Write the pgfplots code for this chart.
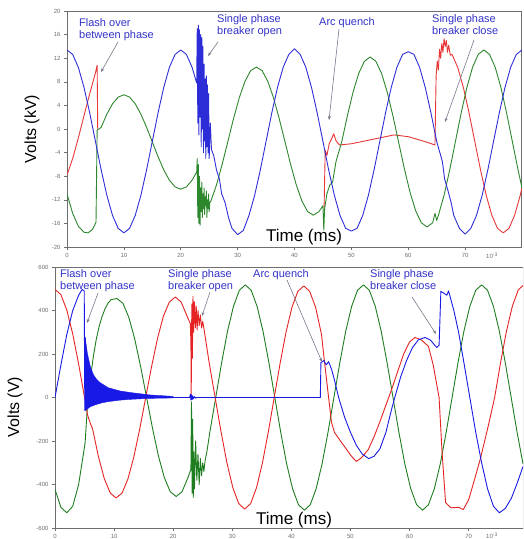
\documentclass[border=0pt]{standalone}
\usepackage{fontspec}
\setmainfont{Liberation Sans}
\usepackage{pgfplots}
\pgfplotsset{compat=1.18}
\usetikzlibrary{arrows.meta}
\definecolor{wblue}{RGB}{45,45,215}
\definecolor{wgreen}{RGB}{45,135,45}
\definecolor{wred}{RGB}{232,55,55}
\definecolor{bblue}{RGB}{25,25,230}
\definecolor{bgreen}{RGB}{30,125,30}
\definecolor{bred}{RGB}{230,35,35}
\definecolor{notecol}{RGB}{50,50,200}
\definecolor{arrowcol}{RGB}{120,120,140}
\definecolor{framecol}{RGB}{110,110,110}
\pgfplotsset{
  wave/.style={
    scale only axis,
    anchor=south west,
    xmin=0,
    xtick={0,10,...,70},
    xtick pos=bottom, ytick pos=left,
    tick align=outside,
    major tick length=3pt,
    axis line style={draw=framecol, line width=1pt},
    tick style={draw=framecol, line width=0.6pt},
    ticklabel style={font=\fontsize{6}{7}\selectfont, text=framecol},
    /pgf/number format/assume math mode=true,
    every axis plot/.append style={line width=0.9pt, line join=round, mark=none},
  },
}
\begin{document}
\begin{tikzpicture}
\path[use as bounding box, clip] (0pt,0pt) rectangle (523pt,-539pt);

% ---- upper panel: kV ----
\begin{axis}[wave, at={(67pt,-247pt)}, width=455pt, height=236pt,
  xmax=80, ymin=-20, ymax=20, ytick={-20,-16,...,20}]
% red phase
\addplot[wred] coordinates {
 (0,-7.8)(1,-5)(2,-1.5)(3,2.3)(4,6)(5,9.5)(5.3,10.8)(5.4,0)
};
\addplot[wred] coordinates {
 (45.2,-13.5)(45.4,-3.6)(45.7,-4.5)(46.1,-2.5)(46.6,-1.5)(46.9,-0.8)(47.3,-2)(47.9,-2.7)
 (50,-2.5)(53,-1.9)(56,-1.3)(57.5,-1.0)(60,-1.3)(62.5,-2.0)(64.7,-2.7)
 (64.9,9)(65.1,11.5)(65.3,10)(65.5,13.5)(65.7,12)(65.9,14.5)(66.1,13)(66.3,15.3)(66.5,14)
 (66.7,15)(66.9,13)(67.1,14.2)(67.4,12.5)(67.7,12.64)(68.7,10.44)(69.7,7.01)(70.7,2.69)
 (71.7,-2.1)(72.7,-6.89)(73.7,-11.21)(74.7,-14.64)(75.7,-16.84)(76.7,-17.6)(77.7,-16.84)
 (78.7,-14.64)(79.7,-11.21)(80,-9.85)
};
% green phase
\addplot[wgreen] coordinates {
 (0,-11)(1,-14.3)(2,-16.5)(3,-17.5)(3.7,-17.6)(4.5,-17)(5.1,-15.8)(5.3,-0.2)
 (6,0.27)(7,2.5)(8,4.27)(9,5.41)(10,5.8)(11,5.41)(12,4.27)(13,2.5)(14,0.27)(15,-2.2)
 (16,-4.67)(17,-6.9)(18,-8.67)(19,-9.81)(20,-10.2)(21,-9.81)(22,-8.67)(22.8,-7.3)
 (22.9,-5)(23.0,-15)(23.1,-6)(23.2,-16)(23.3,-8)(23.4,-16.3)(23.5,-10)(23.6,-14)(23.7,-9)
 (23.8,-15)(23.9,-11)(24.0,-13.5)(24.1,-10)(24.2,-14.5)(24.3,-11.5)(24.4,-13)(24.5,-10.5)
 (24.6,-15)(24.7,-12)(24.8,-13.5)(24.9,-11)(25.0,-14)(25.1,-12.5)(25.3,-12.2)
 (26.3,-9.43)(27.3,-5.93)(28.3,-2.05)(29.3,1.83)(30.3,5.33)(31.3,8.1)(32.3,9.89)(33.3,10.5)
 (34.3,9.89)(35.3,8.1)(36.3,5.33)(37.3,1.83)(38.3,-2.05)(39.3,-5.93)(40.3,-9.43)(41.3,-12.2)
 (42.3,-13.99)(43.3,-14.6)(44.3,-14.0)(45.0,-13.0)(45.15,-17.1)(45.3,-13.5)(45.7,-11)
 (46.2,-9.5)(46.7,-9.0)(47.3,-5.5)(48.3,-2.2)(49.3,2.25)(50.3,6.27)(51.3,9.45)(52.3,11.49)
 (53.3,12.2)(54.3,11.49)(55.3,9.45)(56.3,6.27)(57.3,2.25)(58.3,-2.2)(59.3,-6.65)(60.3,-10.67)
 (61.3,-13.85)(62.3,-15.89)(63.3,-16.6)(64.3,-15.89)(64.7,-14.3)(65.0,-15.5)(65.3,-14.64)
 (66.3,-11.21)(67.3,-6.89)(68.3,-2.1)(69.3,2.69)(70.3,7.01)(71.3,10.44)(72.3,12.64)(73.3,13.4)
 (74.3,12.64)(75.3,10.44)(76.3,7.01)(77.3,2.69)(78.3,-2.1)(79.3,-6.89)(80,-10.0)
};
% blue phase
\addplot[wblue] coordinates {
 (0,13.4)(1,12.64)(2,10.44)(3,7.01)(4,2.69)(5,-2.1)(6,-6.89)(7,-11.21)(8,-14.64)(9,-16.84)
 (10,-17.6)(11,-16.84)(12,-14.64)(13,-11.21)(14,-6.89)(15,-2.1)(16,2.69)(17,7.01)(18,10.44)
 (19,12.64)(20,13.4)(21,12.64)(22,10.44)(22.8,7.8)
 (22.9,17)(23.0,1)(23.1,17.6)(23.2,-1)(23.3,16.8)(23.4,2)(23.5,16)(23.6,-3)(23.7,15.5)
 (23.8,0)(23.9,14)(24.0,-4)(24.1,11)(24.2,-2)(24.3,8.5)(24.4,-5)(24.5,9)(24.6,-3)(24.7,7.5)
 (24.8,-4)(24.9,6)(25.0,-5)(25.2,1)(25.4,-3.5)
 (25.8,-4.5)(26.3,-7)(26.8,-8.5)(27.2,-11)(27.8,-12.5)(28.4,-15)(29,-16.84)(30,-17.9)
 (31,-17.2)(32,-14.64)(33,-11.21)(34,-6.89)(35,-2.1)(36,2.69)(37,7.01)(38,10.44)(39,12.64)
 (40,13.6)(41,12.64)(42,10.44)(43,7.01)(44,2.69)(45,-2.1)(46,-6.89)(47,-11.21)(48,-14.64)
 (49,-16.84)(50,-17.3)(51,-16.84)(52,-14.64)(53,-11.21)(54,-6.89)(55,-2.1)(56,2.69)(57,7.01)
 (58,10.44)(59,12.64)(60,13.1)(61,12.64)(62,10.44)(63,7.01)(64,2.69)(65,-2.1)(65.5,-3.8)
 (66,-5.5)(66.4,-8.5)(67,-10.5)(67.5,-12.3)(68,-14.64)(69,-16.84)(70,-17.8)(71,-16.84)
 (72,-14.64)(73,-11.21)(74,-6.89)(75,-2.1)(76,2.69)(77,7.01)(78,10.44)(79,12.64)(80,13.4)
};
\end{axis}

% ---- lower panel: V ----
\begin{axis}[wave, at={(55pt,-528pt)}, width=468pt, height=261pt,
  xmax=79.2, ymin=-600, ymax=600, ytick={-600,-400,...,600}]
% green phase
\addplot[bgreen] coordinates {
 (0,-423)(1,-505)(2,-530)(3,-500)(4,-400)(4.8,-260)(5.1,-207)(5.3,-120)(5.5,-30)(6,90)
 (6.5,190)(7,270)(7.5,330)(8,375)(8.5,410)(9,435)(9.5,450)(10.5,455)(11.5,433)(12.5,368)
 (13.5,268)(14.5,141)(15.5,0)(16.5,-141)(17.5,-268)(18.5,-368)(19.5,-433)(20.5,-455)
 (21.5,-433)(22.5,-368)(23,-330)
 (23.1,-20)(23.2,-440)(23.3,-100)(23.4,-460)(23.5,-250)(23.6,-420)(23.8,-200)(24.0,-380)
 (24.2,-260)(24.4,-400)(24.6,-280)(24.8,-360)(25.0,-300)(25.2,-340)(25.4,-290)(25.7,-250)
 (26.2,-160)(27.2,0)(28.2,160)(29.2,305)(30.2,419)(31.2,493)(32.2,518)(33.2,493)(34.2,419)
 (35.2,305)(36.2,160)(37.2,0)(38.2,-160)(39.2,-305)(40.2,-419)(41.2,-493)(42.2,-518)
 (43.2,-493)(44.2,-419)(45.2,-305)(46.2,-160)(47.2,0)(48.2,160)(49.2,305)(50.2,419)
 (51.2,493)(52.2,518)(53.2,493)(54.2,419)(55.2,305)(56.2,160)(57.2,0)(58.2,-160)(59.2,-305)
 (60.2,-419)(61.2,-493)(62.2,-518)(63.2,-493)(64.2,-419)(65.2,-305)(66.2,-160)(67.2,0)
 (68.2,160)(69.2,305)(70.2,419)(71.2,493)(72.2,518)(73.2,493)(74.2,419)(75.2,305)(76.2,160)
 (77.2,0)(78.2,-160)(79.2,-305)
};
% red phase
\addplot[bred] coordinates {
 (0,497)(1,473)(2,402)(3,292)(4,154)(5,0)(5.1,-15)(5.5,-80)(6.0,-120)(6.35,-143)(7.35,-272)
 (8.35,-374)(9.35,-439)(10.35,-462)(11.35,-439)(12.35,-374)(13.35,-272)(14.35,-143)(15.35,0)
 (16.35,143)(17.35,272)(18.35,374)(19.35,439)(20.35,462)(21.35,439)(22.35,374)(22.9,340)
 (23.0,250)(23.05,0)(23.15,430)(23.25,180)(23.35,465)(23.45,300)(23.6,440)(23.75,320)
 (23.9,420)(24.05,310)(24.2,400)(24.4,330)(24.6,380)(24.8,320)(25.0,350)(25.3,300)
 (26.1,158)(27.1,0)(28.1,-158)(29.1,-301)(30.1,-415)(31.1,-488)(32.1,-513)(33.1,-488)
 (34.1,-415)(35.1,-301)(36.1,-158)(37.1,0)(38.1,158)(39.1,301)(40.1,415)(41.1,488)(42.1,513)
 (43.1,488)(44.1,415)(45.1,290)(45.5,190)(46.3,0)(46.8,-115)(47.3,-161)(48.5,-207)(50.2,-271)
 (51.0,-294)(51.9,-276)(53,-240)(54,-180)(55,-110)(56,-35)(57,40)(58,120)(59,200)(60,255)
 (60.9,276)(62,265)(63.2,235)(64,150)(65,0)(65.5,-250)(66.1,-483)(67,-507)(68.3,-505)
 (69.1,-515)(70,-470)(71,-377)(72,-280)(73.3,-133)(74.4,0)(75.4,160)(76.4,305)(77.4,420)
 (78.4,495)(79.2,515)
};
% blue phase: decaying ringing after the flash over
\addplot[bblue, fill=bblue, line width=0.4pt] coordinates {
 (5.1,276)(5.5,200)(6,140)(6.5,105)(7,85)(7.6,69)(9,45)(11,30)(13,22)(16,12)(20,5)
 (20,-2)(16,-4)(13,-8)(11,-12)(9,-19)(8,-24)(7,-32)(6,-42)(5.5,-52)(5.1,-60)
} -- cycle;
\addplot[bblue] coordinates {
 (0,0)(1,150)(2,290)(3,400)(4,470)(4.6,497)(4.95,490)(5.0,150)(5.05,-60)(5.1,276)
 (5.6,60)(7,25)(10,10)(15,3)(20,0)(22.8,0)
 (22.9,15)(23.0,-12)(23.1,12)(23.2,-10)(23.3,8)(23.4,-6)(23.6,4)(23.8,-3)(24.0,0)
 (44.9,0)(45.0,160)(45.5,170)(45.9,150)(46.3,165)(46.8,130)(47.3,80)(48.0,0)(49,-90)
 (50,-160)(51,-220)(52,-260)(53.1,-281)(54,-270)(55,-235)(56,-160)(57,-50)(57.5,0)
 (58.5,95)(59.5,170)(60.5,230)(61.5,265)(62.6,276)(63.5,265)(64.6,230)(65.0,240)
 (65.3,488)(65.8,480)(66.3,470)(66.6,490)(66.8,470)(67.5,400)(68.3,300)(69.2,160)
 (70.2,0)(71.2,-160)(72.2,-300)(73.2,-420)(74.2,-500)(75.2,-530)(76.2,-510)(77.2,-465)
 (78.2,-395)(79.2,-317)
};
\end{axis}

% ---- labels and notes ----
\tikzset{note/.style={anchor=north west, inner sep=0pt, align=left, text=notecol,
  font=\fontsize{11}{12}\selectfont},
  pointer/.style={draw=arrowcol, line width=0.6pt, -{Stealth[length=4pt,width=3pt]}}}

\node[rotate=90, font=\fontsize{16}{18}\selectfont] at (32pt,-129pt) {Volts (kV)};
\node[rotate=90, font=\fontsize{16}{18}\selectfont] at (15pt,-407pt) {Volts (V)};
\node[font=\fontsize{17}{19}\selectfont] at (304pt,-237pt) {Time (ms)};
\node[font=\fontsize{17}{19}\selectfont] at (294pt,-520pt) {Time (ms)};
\node[font=\fontsize{6}{7}\selectfont, text=framecol] at (492pt,-256pt) {10\textsuperscript{-3}};
\node[font=\fontsize{6}{7}\selectfont, text=framecol] at (492pt,-536pt) {10\textsuperscript{-3}};

\node[note] at (79pt,-18pt) {Flash over\\between phase};
\node[note] at (217pt,-14pt) {Single phase\\breaker open};
\node[note] at (319pt,-17pt) {Arc quench};
\node[note] at (432pt,-14pt) {Single phase\\breaker close};
\draw[pointer] (118pt,-42pt) -- (101pt,-72pt);
\draw[pointer] (218pt,-42pt) -- (208pt,-56pt);
\draw[pointer] (339pt,-29pt) -- (329pt,-120pt);
\draw[pointer] (474pt,-40pt) -- (445pt,-122pt);

\node[note] at (60pt,-269pt) {Flash over\\between phase};
\node[note] at (168pt,-269pt) {Single phase\\breaker open};
\node[note] at (253pt,-269pt) {Arc quench};
\node[note] at (370pt,-269pt) {Single phase\\breaker close};
\draw[pointer] (98pt,-293pt) -- (87pt,-323pt);
\draw[pointer] (210pt,-292pt) -- (202pt,-316pt);
\draw[pointer] (287pt,-280pt) -- (322pt,-362pt);
\draw[pointer] (412pt,-297pt) -- (436pt,-334pt);
\end{tikzpicture}
\end{document}
